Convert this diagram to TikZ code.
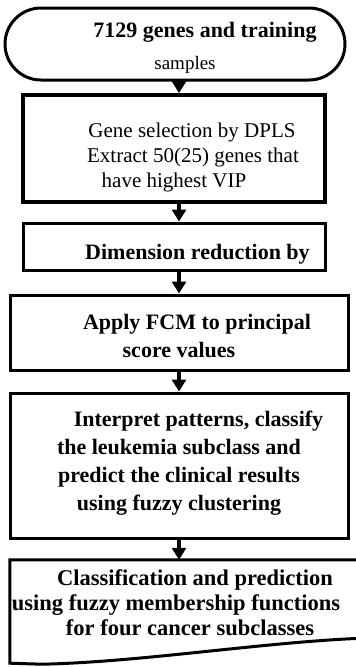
\documentclass[tikz,border=0pt]{standalone}
\usepackage{fontspec}
\setmainfont{Liberation Serif}
\usetikzlibrary{arrows.meta,positioning,calc}

\begin{document}
\begin{tikzpicture}[x=1pt,y=-1pt,
  stepbox/.style={rectangle,draw,line width=3pt,inner sep=0pt},
  startbox/.style={stepbox,rounded corners=36pt},
  steptext/.style={inner sep=0pt,align=center,font=\fontsize{22}{28}\selectfont\bfseries},
  plaintext/.style={steptext,font=\fontsize{21}{25}\selectfont},
  docbox/.style={rectangle,inner sep=0pt,align=center,
    font=\fontsize{22.5}{25}\selectfont\bfseries},
  flow/.style={line width=3.5pt,-{Triangle[width=14pt,length=12pt]}}
]
\useasboundingbox (0,0) rectangle (356,667);
\clip (0,0) rectangle (356,667);
\coordinate (axis) at (179,0);
% steps
\node[startbox,minimum width=340pt,minimum height=72pt] (start) at (175,44) {};
\node[steptext] (startT) at ($(start)+(0,4)$)
  {\hspace*{60pt}7129 genes and training\\[4pt]
   \mdseries\fontsize{19}{25}\selectfont\hspace*{20pt}samples};
\node[stepbox,line width=3.8pt,minimum width=302pt,minimum height=107pt] (select) at (174,148.5) {};
\node[plaintext] (selectT) at ($(select)+(0,9)$)
  {\hspace*{36pt}Gene selection by DPLS\\
   \hspace*{38pt}Extract 50(25) genes that\\
   have highest VIP};
\node[stepbox,minimum width=302pt,minimum height=47pt] (reduce) at (174,246.5) {};
\node[steptext] (reduceT) at ($(reduce)+(0,8)$)
  {\hspace*{47pt}Dimension reduction by};
\node[stepbox,minimum width=338pt,minimum height=75pt] (fcm) at (179,332.5) {};
\node[steptext] (fcmT) at ($(fcm)+(0,3)$)
  {\hspace*{36pt}Apply FCM to principal\\
   score values};
\node[stepbox,minimum width=338pt,minimum height=145pt] (interp) at (179,465.5) {};
\node[steptext] (interpT) at ($(interp)+(0,-2)$)
  {\hspace*{39pt}Interpret patterns, classify\\
   the leukemia subclass and\\
   predict the clinical results\\
   using fuzzy clustering};
\node[docbox,minimum width=352pt,minimum height=86pt] (result) at (186,603)
  {\hspace*{18pt}Classification and prediction\\
   \hspace*{-20pt}using fuzzy membership functions\\
   \hspace*{8pt}for four cancer subclasses};
% document outline
\draw[line width=3pt,line join=miter] (result.north west) -- (result.north east)
  -- ([yshift=8pt]result.south east)
  .. controls ([xshift=-100pt,yshift=4pt]result.south east) and ([xshift=130pt,yshift=-16pt]result.south west)
  .. ([xshift=32pt,yshift=-18pt]result.south west)
  -- ([yshift=-17pt]result.south west) -- cycle;
% arrows
\foreach \a/\b in {start/select,select/reduce,reduce/fcm,fcm/interp,interp/result} {
  \draw[flow] (\a.south -| axis) -- (\b.north -| axis);
}
\end{tikzpicture}
\end{document}
